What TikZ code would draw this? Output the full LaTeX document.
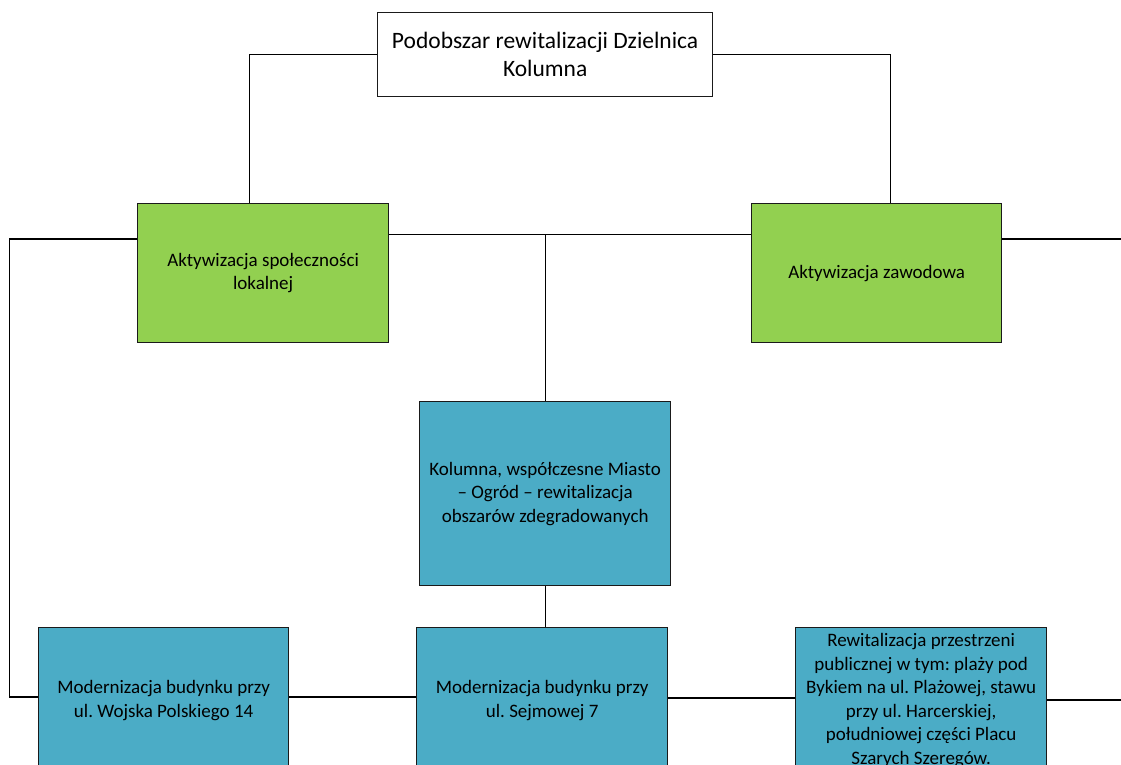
\documentclass[tikz,border=0pt]{standalone}
\usepackage{fontspec}
\setmainfont{Carlito}
\frenchspacing
\definecolor{boxgreen}{HTML}{92D050}
\definecolor{boxblue}{HTML}{4BACC6}
\definecolor{edge}{HTML}{1A1A1A}
\begin{document}
\begin{tikzpicture}[x=1pt,y=-1pt,
  box/.style={draw=edge, line width=1.3pt, inner sep=0pt, align=center, anchor=north west,
    font=\fontsize{19}{23.5}\selectfont},
  conn/.style={draw=black, line width=1.3pt}]
\useasboundingbox (0,0) rectangle (1121,765);
\clip (0,0) rectangle (1121,765);
% nodes
\node[box, fill=white, minimum width=335, minimum height=84,
  font=\fontsize{23.5}{28}\selectfont] (top) at (377,12) {Podobszar rewitalizacji Dzielnica\\Kolumna};
\node[box, fill=boxgreen, minimum width=251, minimum height=139] (gl) at (137,203) {Aktywizacja społeczności\\lokalnej};
\node[box, fill=boxgreen, minimum width=250, minimum height=139] (gr) at (751,203) {Aktywizacja zawodowa};
\node[box, fill=boxblue, minimum width=251, minimum height=184] (bc) at (419,401) {Kolumna, współczesne Miasto\\– Ogród – rewitalizacja\\obszarów zdegradowanych};
\node[box, fill=boxblue, minimum width=250, minimum height=146] (bl) at (38,627) {Modernizacja budynku przy\\ul. Wojska Polskiego 14};
\node[box, fill=boxblue, minimum width=251, minimum height=146] (bm) at (416,627) {Modernizacja budynku przy\\ul. Sejmowej 7};
\node[box, fill=boxblue, minimum width=251, minimum height=146] (br) at (795,627) {Rewitalizacja przestrzeni\\publicznej w tym: plaży pod\\Bykiem na ul. Plażowej, stawu\\przy ul. Harcerskiej,\\południowej części Placu\\Szarych Szeregów.};
% helper coordinates
\coordinate (lc1) at (9.5,239);
\coordinate (lc2) at (9.5,697);
\coordinate (yC) at (0,234.5);
\coordinate (rc1) at (1121,239);
\coordinate (rc2) at (1121,700);
\coordinate (yD) at (0,698);
% connectors
\draw[conn] (top.west) -| ([xshift=-14pt]gl.north);
\draw[conn] (top.east) -| ([xshift=14pt]gr.north);
\draw[conn] (gl.west |- lc1) -- (lc1) -- (lc2) -- (bl.west |- lc2);
\draw[conn] (gl.east |- yC) -- (gr.west |- yC);
\draw[conn] (bc.north) -- (bc.north |- yC);
\draw[conn] (gr.east |- rc1) -- (rc1);
\draw[conn] (bc.south) -- (bc.south |- bm.north);
\draw[conn] (bl.east |- lc2) -- (bm.west |- lc2);
\draw[conn] (bm.east |- yD) -- (br.west |- yD);
\draw[conn] (br.east |- rc2) -- (rc2);
\end{tikzpicture}
\end{document}
